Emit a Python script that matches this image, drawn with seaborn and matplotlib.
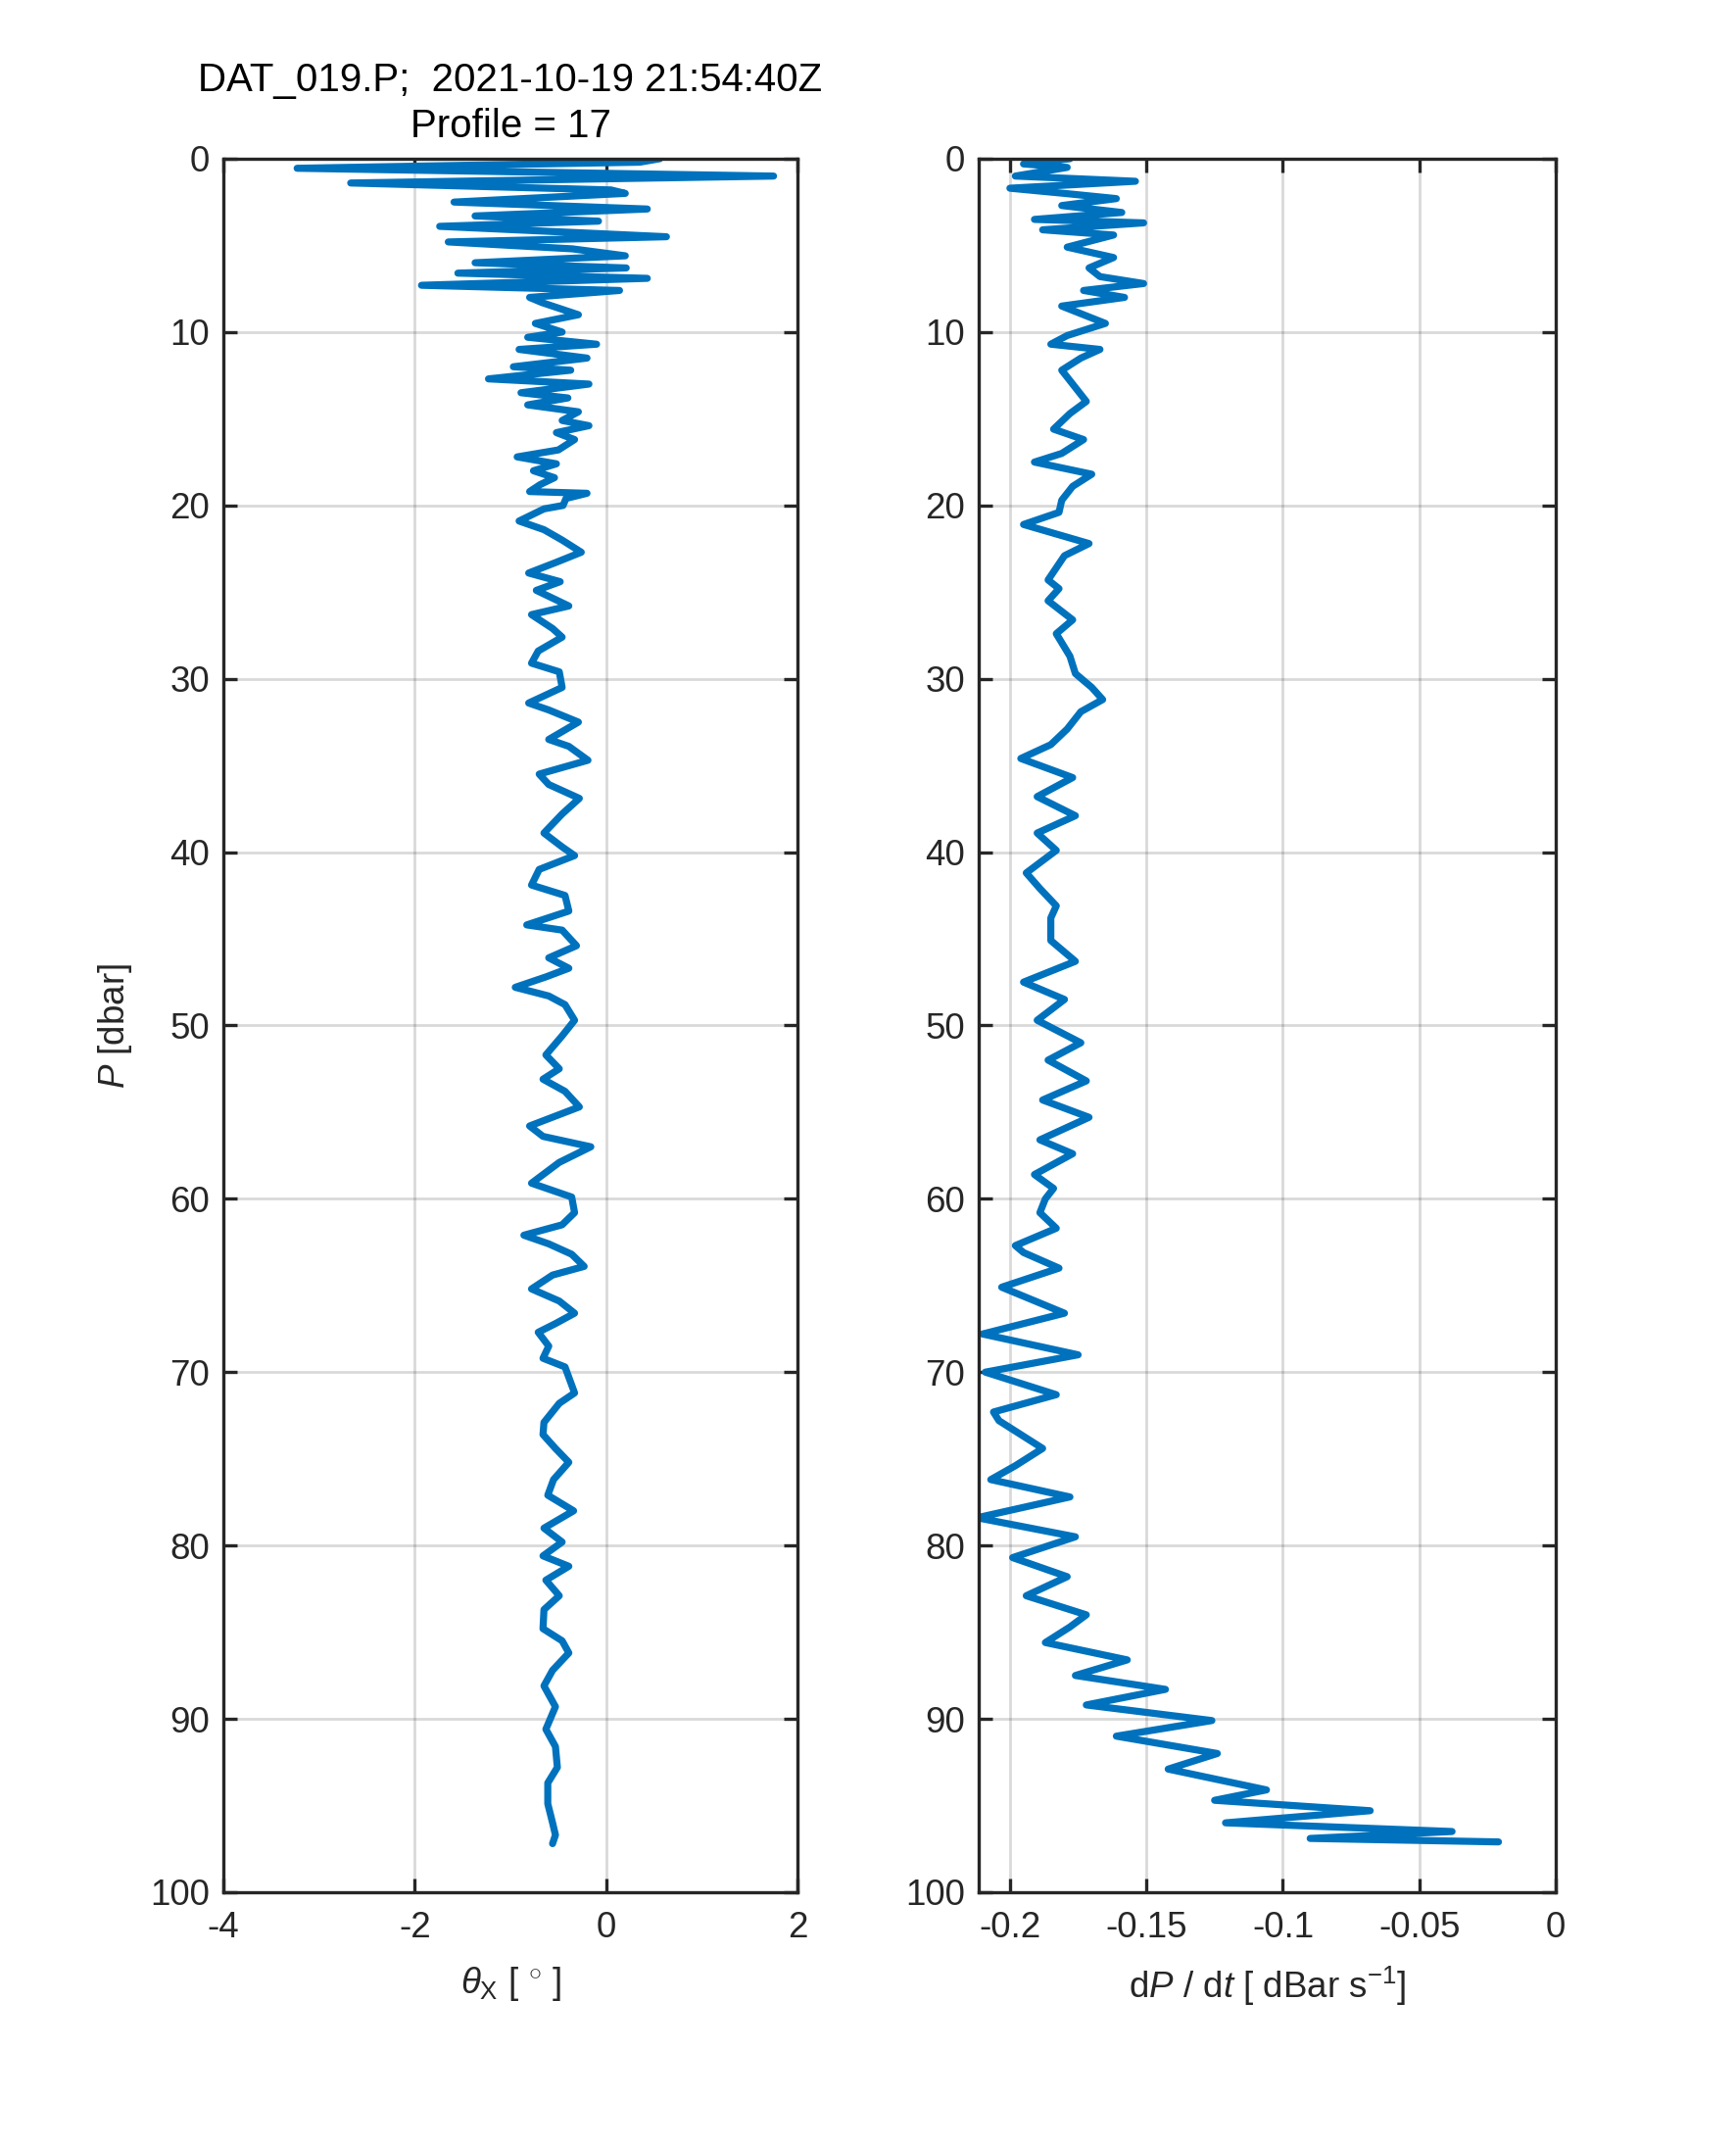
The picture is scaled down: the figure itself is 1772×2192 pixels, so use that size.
import numpy as np
import pandas as pd
import matplotlib
matplotlib.use("Agg")
import matplotlib.pyplot as plt
import seaborn as sns

# ---------------- data ----------------
p_theta = [0.0, 0.2, 0.55, 1.0, 1.4, 1.8, 2.0, 2.5, 2.9, 3.3, 3.6, 3.9, 4.5, 4.8, 5.2, 5.6,
           6.0, 6.3, 6.6, 6.9, 7.3, 7.6, 8.0, 8.3, 9.0, 9.5, 10.0, 10.3, 10.7, 11.0, 11.5,
           12.0, 12.2, 12.7, 13.0, 13.5, 13.8, 14.2, 14.6, 15.1, 15.4, 15.8, 16.2, 16.8,
           17.2, 17.6, 18.0, 18.4, 18.8, 19.2, 19.3, 19.6, 20.0, 20.2, 20.9, 21.4, 22.0,
           22.7, 23.3, 23.9, 24.4, 24.9, 25.8, 26.3, 27.1, 27.6, 28.4, 29.1, 29.6, 30.5,
           31.4, 31.8, 32.5, 33.5, 33.9, 34.7, 35.5, 36.1, 36.9, 37.8, 38.9, 39.7, 40.2,
           41.0, 41.9, 42.5, 43.4, 44.2, 44.5, 45.4, 46.1, 46.7, 47.2, 47.8, 48.3, 48.8,
           49.7, 50.6, 51.7, 52.5, 53.1, 53.8, 54.7, 55.8, 56.4, 57.0, 57.9, 59.1, 59.9,
           60.8, 61.5, 62.1, 62.6, 63.2, 63.9, 64.4, 65.2, 65.9, 66.6, 67.2, 67.7, 68.5,
           69.2, 69.7, 71.2, 71.8, 72.9, 73.6, 74.4, 75.2, 76.2, 77.1, 78.0, 79.0, 79.8,
           80.6, 81.2, 82.0, 82.9, 83.7, 84.8, 85.5, 86.2, 87.2, 88.1, 89.3, 90.6, 91.6,
           92.8, 93.7, 94.9, 96.0, 96.7, 97.2]
theta_x = [0.56, 0.35, -3.23, 1.75, -2.67, 0.05, 0.2, -1.59, 0.43, -1.37, -0.08, -1.74, 0.63,
           -1.65, -0.35, 0.2, -1.37, 0.21, -1.55, 0.43, -1.93, 0.14, -0.8, -0.67, -0.29, -0.74,
           -0.46, -0.82, -0.1, -0.91, -0.2, -0.97, -0.37, -1.23, -0.18, -0.89, -0.4, -0.82,
           -0.29, -0.46, -0.18, -0.52, -0.33, -0.5, -0.93, -0.52, -0.76, -0.54, -0.69, -0.8,
           -0.2, -0.42, -0.45, -0.65, -0.91, -0.65, -0.46, -0.26, -0.53, -0.81, -0.48, -0.73,
           -0.39, -0.78, -0.56, -0.46, -0.71, -0.78, -0.49, -0.46, -0.81, -0.6, -0.29, -0.6,
           -0.39, -0.19, -0.70, -0.6, -0.28, -0.46, -0.65, -0.46, -0.33, -0.70, -0.78, -0.43,
           -0.39, -0.83, -0.46, -0.31, -0.6, -0.39, -0.63, -0.95, -0.6, -0.43, -0.33, -0.46,
           -0.63, -0.49, -0.66, -0.43, -0.28, -0.80, -0.66, -0.16, -0.49, -0.78, -0.36, -0.33,
           -0.46, -0.86, -0.6, -0.36, -0.23, -0.56, -0.78, -0.49, -0.33, -0.53, -0.71, -0.6,
           -0.66, -0.43, -0.33, -0.49, -0.65, -0.66, -0.53, -0.39, -0.55, -0.61, -0.34, -0.65,
           -0.46, -0.66, -0.39, -0.63, -0.49, -0.65, -0.66, -0.46, -0.39, -0.56, -0.65, -0.53,
           -0.63, -0.53, -0.51, -0.61, -0.61, -0.56, -0.53, -0.56]

p_speed = [0.0, 0.3, 0.5, 1.0, 1.3, 1.7, 2.0, 2.3, 2.7, 3.1, 3.5, 3.7, 4.1, 4.4, 5.1, 5.7, 6.3,
           6.8, 7.2, 7.6, 8.0, 8.5, 9.5, 10.2, 10.7, 11.0, 11.5, 12.2, 13.2, 14.0, 14.7, 15.6,
           16.2, 17.0, 17.5, 18.2, 18.9, 19.7, 20.4, 21.1, 22.2, 22.9, 24.3, 24.8, 25.5, 26.6,
           27.4, 28.7, 29.7, 30.5, 31.2, 31.9, 32.9, 33.8, 34.6, 35.7, 36.8, 37.9, 38.9, 39.9,
           41.2, 42.1, 43.1, 43.8, 45.1, 46.3, 47.5, 48.5, 49.7, 51.0, 52.0, 53.2, 54.3, 55.3,
           56.6, 57.4, 58.6, 59.4, 60.0, 60.8, 61.7, 62.7, 63.1, 64.0, 65.1, 66.6, 67.8, 69.0,
           70.0, 71.3, 72.3, 72.8, 74.4, 75.4, 76.2, 77.2, 78.4, 79.5, 80.7, 81.8, 82.9, 84.0,
           84.7, 85.6, 86.6, 87.5, 88.3, 89.2, 90.1, 91.0, 92.0, 92.9, 94.1, 94.7, 95.3, 96.0,
           96.5, 96.9, 97.1]
dpdt = [-0.178, -0.195, -0.179, -0.198, -0.154, -0.200, -0.180, -0.161, -0.181, -0.159, -0.191,
        -0.151, -0.188, -0.162, -0.179, -0.162, -0.171, -0.167, -0.151, -0.173, -0.158, -0.181,
        -0.165, -0.179, -0.185, -0.167, -0.174, -0.181, -0.176, -0.172, -0.178, -0.184, -0.173,
        -0.181, -0.191, -0.170, -0.177, -0.181, -0.182, -0.195, -0.171, -0.180, -0.186, -0.182,
        -0.186, -0.177, -0.183, -0.178, -0.176, -0.170, -0.166, -0.174, -0.179, -0.185, -0.196,
        -0.177, -0.190, -0.176, -0.190, -0.183, -0.194, -0.189, -0.183, -0.185, -0.185, -0.176,
        -0.195, -0.180, -0.190, -0.174, -0.186, -0.172, -0.188, -0.171, -0.189, -0.177, -0.191,
        -0.184, -0.187, -0.189, -0.183, -0.198, -0.195, -0.182, -0.203, -0.180, -0.210, -0.175,
        -0.209, -0.183, -0.206, -0.204, -0.188, -0.198, -0.207, -0.178, -0.212, -0.176, -0.199,
        -0.179, -0.194, -0.172, -0.178, -0.187, -0.157, -0.176, -0.143, -0.172, -0.126, -0.161,
        -0.124, -0.142, -0.106, -0.125, -0.068, -0.121, -0.038, -0.090, -0.021]

theta_ticks = [-4, -2, 0, 2]
theta_ticklabels = ["-4", "-2", "0", "2"]
speed_ticks = [-0.2, -0.15, -0.1, -0.05, 0]
speed_ticklabels = ["-0.2", "-0.15", "-0.1", "-0.05", "0"]
p_ticks = list(range(0, 101, 10))
p_ticklabels = [str(v) for v in p_ticks]

title_text = "DAT_019.P;  2021-10-19 21:54:40Z\nProfile = 17"

# ---------------- style ----------------
sns.set_style("white")
plt.rcParams["font.family"] = ["Liberation Sans", "DejaVu Sans"]
plt.rcParams["mathtext.fontset"] = "custom"
plt.rcParams["mathtext.rm"] = "Liberation Sans"
plt.rcParams["mathtext.it"] = "Liberation Sans:italic"
plt.rcParams["axes.unicode_minus"] = False

LINE = "#0072BD"
DARK = "#262626"
FS = 26.5
FS_T = 29

fig = plt.figure(figsize=(17.72, 21.92), dpi=100)
ax1 = fig.add_axes([0.1287, 0.1191, 0.3307, 0.8070])
ax2 = fig.add_axes([0.5638, 0.1191, 0.3324, 0.8070])

df1 = pd.DataFrame({"P": p_theta, "theta": theta_x})
df2 = pd.DataFrame({"P": p_speed, "dpdt": dpdt})

sns.lineplot(data=df1, x="theta", y="P", sort=False, estimator=None, orient="y",
             color=LINE, linewidth=5.2, ax=ax1)
sns.lineplot(data=df2, x="dpdt", y="P", sort=False, estimator=None, orient="y",
             color=LINE, linewidth=5.2, ax=ax2)

for ax, xt, xtl, xl in [(ax1, theta_ticks, theta_ticklabels, (-4, 2)),
                        (ax2, speed_ticks, speed_ticklabels, (-0.2114, 0))]:
    ax.set_xlim(*xl)
    ax.set_ylim(100, 0)
    ax.set_xticks(xt)
    ax.set_xticklabels(xtl)
    ax.set_yticks(p_ticks)
    ax.set_yticklabels(p_ticklabels)
    ax.grid(True, color="black", alpha=0.15, linewidth=2.0)
    ax.set_axisbelow(True)
    for s in ax.spines.values():
        s.set_visible(True)
        s.set_color(DARK)
        s.set_linewidth(2.4)
    ax.tick_params(axis="both", which="both", direction="in", length=10, width=2.4,
                   color=DARK, labelcolor=DARK, labelsize=FS, top=True, right=True,
                   bottom=True, left=True, pad=10)
    ax.tick_params(axis="x", pad=14)
    ax.set_ylabel("")

ax1.set_xlabel(r"$\theta_{\mathrm{X}}$ [ $^{\circ}$ ]", fontsize=FS, color=DARK, labelpad=14)
ax2.set_xlabel(r"d$P$ / d$t$ [ dBar s$^{-1}$]", fontsize=FS, color=DARK, labelpad=14)
ax1.set_ylabel(r"$P$ [dbar]", fontsize=FS, color=DARK, labelpad=12)
ax1.set_title(title_text, fontsize=FS_T, color="black", pad=16, linespacing=1.3)

fig.savefig("out.png", dpi=100, facecolor="white")
